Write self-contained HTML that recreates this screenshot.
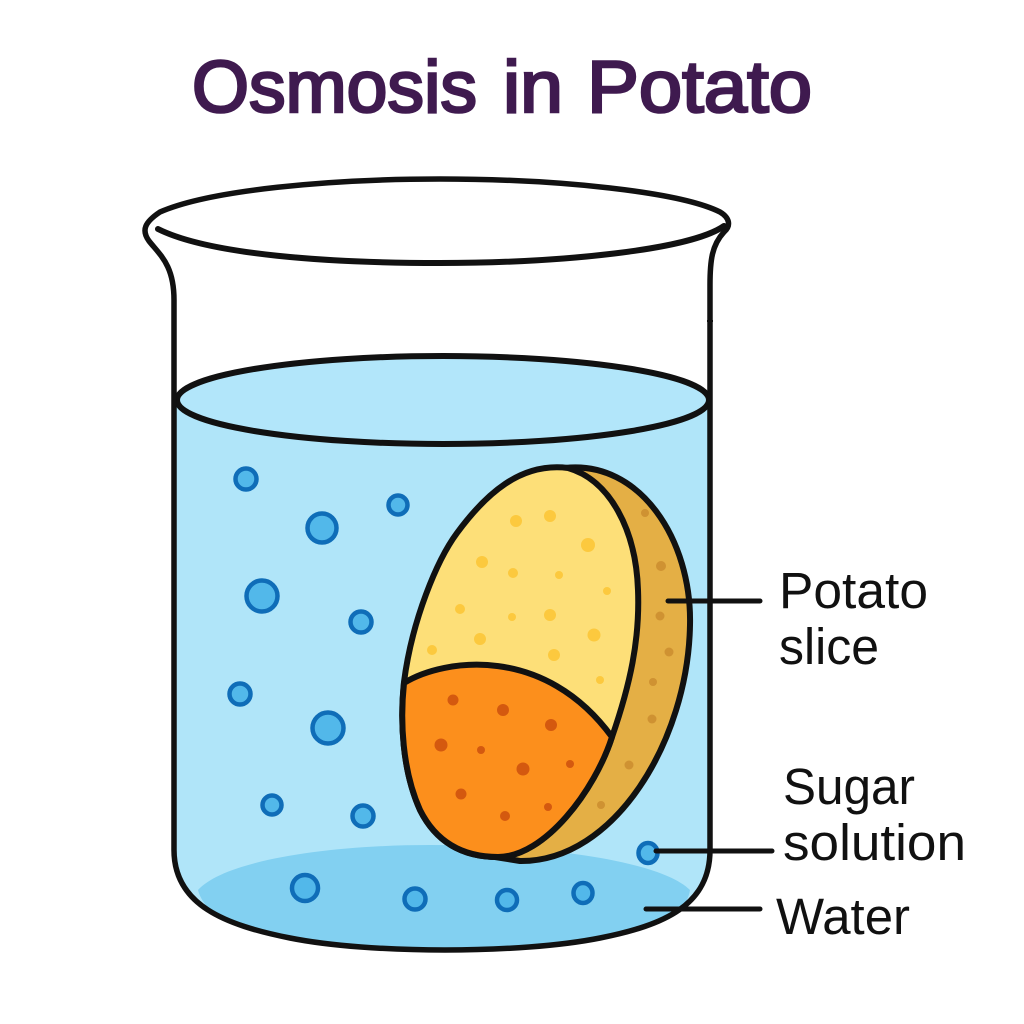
<!DOCTYPE html>
<html>
<head>
<meta charset="utf-8">
<style>
html,body{margin:0;padding:0;background:#fff;width:1024px;height:1024px;overflow:hidden}
svg{display:block}
text{font-family:"Liberation Sans",sans-serif}
</style>
</head>
<body>
<svg width="1024" height="1024" viewBox="0 0 1024 1024" xmlns="http://www.w3.org/2000/svg">
<defs>
<clipPath id="w"><path d="M176 400 L176 850 C176 905 225 925 290 938 C370 954 520 954 600 938 C665 925 710 905 710 850 L710 400 Z"/></clipPath>
</defs>
<rect width="1024" height="1024" fill="#fff"/>
<g font-size="73" font-weight="400" fill="#3f1a4f" stroke="#3f1a4f" stroke-width="2.6">
<text x="192" y="112" textLength="285" lengthAdjust="spacingAndGlyphs">Osmosis</text>
<text x="503" y="112" textLength="60" lengthAdjust="spacingAndGlyphs">in</text>
<text x="587" y="112" textLength="225" lengthAdjust="spacingAndGlyphs">Potato</text>
</g>

<!-- water -->
<path d="M176 400 L176 850 C176 905 225 925 290 938 C370 954 520 954 600 938 C665 925 710 905 710 850 L710 400 Z" fill="#b0e5f9"/>
<path clip-path="url(#w)" d="M198 890 C225 860 330 845 430 845 C540 845 660 860 690 890 C688 905 675 915 660 930 L640 960 L240 960 L212 912 C205 905 200 898 198 890 Z" fill="#82d0f1"/>
<ellipse cx="443" cy="400" rx="266" ry="44" fill="#b2e6fa" stroke="#111" stroke-width="6"/>

<!-- beaker -->
<path d="M158 229 C210 255 330 263 440 263 C560 263 690 250 724 226" fill="none" stroke="#111" stroke-width="6" stroke-linecap="round"/>
<path d="M174 300 C174 265 160 255 149 241 C141 230 145 222 160 212 C210 190 330 179 440 179 C560 179 680 192 720 212 C730 218 731 226 724 232 C712 245 710 260 710 285 L710 850 C710 905 665 925 600 938 C520 954 370 954 290 938 C225 925 174 905 174 850 Z" fill="none" stroke="#111" stroke-width="5.5" stroke-linejoin="round"/>
<path d="M707 321 H713" stroke="#111" stroke-width="2"/>

<!-- potato slice -->
<path d="M565 468 C640 460 692 540 690 625 C688 740 615 862 520 861 L495 857 Z" fill="#e4af45" stroke="#111" stroke-width="6" stroke-linejoin="round"/>
<path d="M568 468 C520 462 485 495 457 533 C437 560 412 620 404 682 C400 720 402 770 420 810 C435 840 460 857 498 857 C545 857 595 790 612 737 C630 685 640 640 638 590 C636 530 610 480 568 468 Z" fill="#fddf78" stroke="#111" stroke-width="6" stroke-linejoin="round"/>
<path d="M404 683 C445 658 545 645 612 737 C595 790 545 857 498 857 C460 857 435 840 420 810 C402 770 400 720 404 683 Z" fill="#fc8f1c" stroke="#111" stroke-width="6" stroke-linejoin="round"/>

<!-- yellow dots -->
<g fill="#fcc93e">
<circle cx="516" cy="521" r="6"/><circle cx="550" cy="516" r="6"/><circle cx="588" cy="545" r="7"/><circle cx="482" cy="562" r="6"/><circle cx="513" cy="573" r="5"/><circle cx="559" cy="575" r="4"/><circle cx="607" cy="591" r="4"/><circle cx="460" cy="609" r="5"/><circle cx="512" cy="617" r="4"/><circle cx="550" cy="615" r="6"/><circle cx="594" cy="635" r="6.5"/><circle cx="480" cy="639" r="6"/><circle cx="554" cy="655" r="6"/><circle cx="432" cy="650" r="5"/><circle cx="600" cy="680" r="4"/>
</g>
<!-- orange dots -->
<g fill="#d4590f">
<circle cx="453" cy="700" r="5.5"/><circle cx="503" cy="710" r="6"/><circle cx="551" cy="725" r="6"/><circle cx="441" cy="745" r="6.5"/><circle cx="481" cy="750" r="4"/><circle cx="523" cy="769" r="6.5"/><circle cx="570" cy="764" r="4"/><circle cx="461" cy="794" r="5.5"/><circle cx="505" cy="816" r="5"/><circle cx="548" cy="807" r="4"/>
</g>
<!-- rind dots -->
<g fill="#cf9232">
<circle cx="645" cy="513" r="4"/><circle cx="661" cy="566" r="5"/><circle cx="660" cy="616" r="4.5"/><circle cx="669" cy="652" r="4.5"/><circle cx="653" cy="682" r="4"/><circle cx="652" cy="719" r="4.5"/><circle cx="629" cy="765" r="4.5"/><circle cx="601" cy="805" r="4"/>
</g>

<!-- bubbles -->
<g fill="#52b8ea" stroke="#0f6db8" stroke-width="4.5">
<circle cx="246" cy="479" r="10.5"/><circle cx="322" cy="528" r="14.5"/><circle cx="398" cy="505" r="9.5"/><circle cx="262" cy="596" r="15.5"/><circle cx="361" cy="622" r="10.5"/><circle cx="240" cy="694" r="10.5"/><circle cx="328" cy="728" r="15.5"/><circle cx="272" cy="805" r="9.5"/><circle cx="363" cy="816" r="10.5"/>
<ellipse cx="305" cy="888" rx="13" ry="13"/><ellipse cx="415" cy="899" rx="10.5" ry="10.5"/><ellipse cx="507" cy="900" rx="10" ry="10"/><ellipse cx="583" cy="893" rx="9.5" ry="10"/><ellipse cx="648" cy="853" rx="9.5" ry="10"/>
</g>

<!-- leaders -->
<g stroke="#111" stroke-width="5" fill="none" stroke-linecap="round">
<path d="M668 601 H760"/><path d="M656 851 H772"/><path d="M646 909 H760"/>
</g>
<g font-size="51" fill="#111">
<text x="779" y="608" textLength="149" lengthAdjust="spacingAndGlyphs">Potato</text>
<text x="779" y="664" textLength="100" lengthAdjust="spacingAndGlyphs">slice</text>
<text x="783" y="804" textLength="132" lengthAdjust="spacingAndGlyphs">Sugar</text>
<text x="783" y="860" textLength="183" lengthAdjust="spacingAndGlyphs">solution</text>
<text x="776" y="934" textLength="134" lengthAdjust="spacingAndGlyphs">Water</text>
</g>
</svg>
</body>
</html>
